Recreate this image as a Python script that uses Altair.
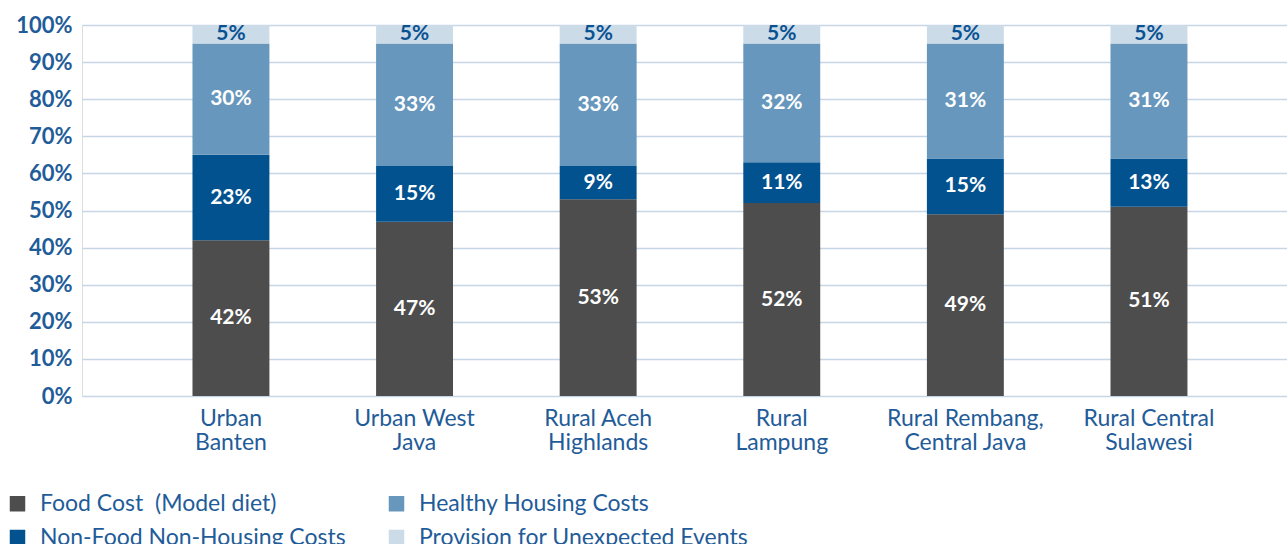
import altair as alt
import pandas as pd

categories = ["Urban|Banten", "Urban West|Java", "Rural Aceh|Highlands",
              "Rural|Lampung", "Rural Rembang,|Central Java", "Rural Central|Sulawesi"]
series = ["Food Cost\u00a0 (Model diet)", "Non-Food Non-Housing Costs",
          "Healthy Housing Costs", "Provision for Unexpected Events"]
food = [42, 47, 53, 52, 49, 51]
nonfood = [23, 15, 9, 11, 15, 13]
housing = [30, 33, 33, 32, 31, 31]
provision = [5, 5, 5, 5, 5, 5]
colors = ["#4D4D4D", "#02528F", "#6797BD", "#CBDBE8"]
text_colors = ["#FFFFFF", "#FFFFFF", "#FFFFFF", "#0A5192"]
y_ticks = [0, 10, 20, 30, 40, 50, 60, 70, 80, 90, 100]

rows = []
for i, c in enumerate(categories):
    vals = [food[i], nonfood[i], housing[i], provision[i]]
    for j, s in enumerate(series):
        rows.append({"cat": c, "series": s, "value": vals[j], "ord": j,
                     "tcolor": text_colors[j], "label": f"{vals[j]}%"})
df = pd.DataFrame(rows)

FONT = "Lato"
BLUE = "#1F5C99"

xscale = alt.Scale(paddingInner=0.581, paddingOuter=0.572, align=0.526)
xaxis = alt.Axis(labelExpr="split(datum.label, '|')", labelAngle=0,
                 labelFont=FONT, labelFontSize=23, labelColor=BLUE,
                 labelLineHeight=24, labelPadding=11, ticks=False,
                 domain=False, grid=False, labelBaseline="top")
yscale = alt.Scale(domain=[0, 100], nice=False)
yaxis = alt.Axis(values=y_ticks, labelExpr="datum.value + '%'",
                 labelFont=FONT, labelFontSize=22, labelFontWeight="bold",
                 labelColor=BLUE, labelPadding=10, ticks=False, domain=False,
                 labelOverlap=False, tickCount=11,
                 grid=True, gridColor="#C6D6E5", gridWidth=1.5)

bars = alt.Chart(df).mark_bar().encode(
    x=alt.X("cat:N", sort=categories, title=None, scale=xscale, axis=xaxis),
    y=alt.Y("value:Q", stack="zero", title=None, scale=yscale, axis=yaxis),
    color=alt.Color("series:N", scale=alt.Scale(domain=series, range=colors),
                    legend=alt.Legend(title=None, orient="none", legendX=-76, legendY=467,
                                      columns=2, columnPadding=39, rowPadding=10,
                                      symbolType="square", symbolSize=240,
                                      symbolStrokeWidth=0, labelFont=FONT,
                                      labelFontSize=23, labelColor=BLUE,
                                      labelOffset=11,
                                      labelLimit=500, symbolOffset=0)),
    order=alt.Order("ord:Q", sort="ascending"),
)

labels = alt.Chart(df).transform_window(
    cum="sum(value)", groupby=["cat"], sort=[alt.SortField("ord")]
).transform_calculate(
    mid="datum.cum - datum.value / 2"
).mark_text(font=FONT, fontSize=21, fontWeight="bold", baseline="middle").encode(
    x=alt.X("cat:N", sort=categories, title=None, scale=xscale, axis=xaxis),
    y=alt.Y("mid:Q", title=None, scale=yscale, axis=yaxis),
    text="label:N",
    color=alt.Color("tcolor:N", scale=None),
)

chart = alt.layer(bars, labels).properties(
    width=1205, height=371,
    autosize=alt.AutoSizeParams(type="none"),
    padding={"left": 82, "top": 25, "right": 0, "bottom": 148},
).configure_view(stroke=None).configure(background="white")

chart.save("out.html", embed_options={"renderer": "svg", "actions": False})
